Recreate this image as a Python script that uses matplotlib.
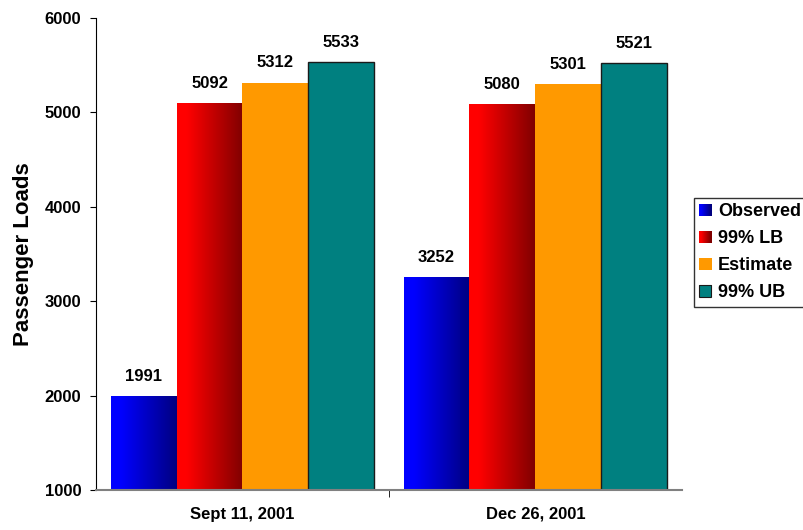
import numpy as np
import matplotlib
matplotlib.use('Agg')
import matplotlib.pyplot as plt
from matplotlib.colors import LinearSegmentedColormap
from matplotlib.patches import Rectangle
from matplotlib.legend_handler import HandlerBase

categories = ['Sept 11, 2001', 'Dec 26, 2001']
series = ['Observed', '99% LB', 'Estimate', '99% UB']
observed = [1991, 3252]
lb99 = [5092, 5080]
estimate = [5312, 5301]
ub99 = [5533, 5521]
values = [observed, lb99, estimate, ub99]

# (start colour, end colour, edge) for each series; equal colours means flat fill
fills = [('#0000ff', '#000080', 'none'), ('#ff0000', '#800000', 'none'),
         ('#ff9900', '#ff9900', 'none'), ('#008080', '#008080', '#1a1a1a')]

plt.rcParams['font.family'] = ['Liberation Sans', 'DejaVu Sans']
plt.rcParams['font.weight'] = 'bold'

fig = plt.figure(figsize=(8.04, 5.30), dpi=100)
ax = fig.add_axes([0.1194, 0.0755, 0.7286, 0.8905])

width = 0.225
x = np.arange(len(categories))


def cmap_for(c0, c1):
    return LinearSegmentedColormap.from_list('g', [(0, c0), (0.15, c0), (1, c1)])


grad = np.linspace(0, 1, 256).reshape(1, -1)
for i, (name, vals) in enumerate(zip(series, values)):
    c0, c1, ec = fills[i]
    pos = x - 1.5 * width + i * width
    bars = ax.bar(pos, vals, width, bottom=0, color=c0, label=name,
                  edgecolor=ec, linewidth=1.0, zorder=2)
    for b, v in zip(bars, vals):
        if c0 != c1:
            b.set_facecolor('none')
            ax.imshow(grad, cmap=cmap_for(c0, c1), aspect='auto',
                      extent=[b.get_x(), b.get_x() + b.get_width(), 1000, v],
                      zorder=2, interpolation='bilinear')
        ax.annotate('%d' % v, (b.get_x() + b.get_width() / 2, v),
                    xytext=(0, 9), textcoords='offset points',
                    ha='center', va='bottom', fontsize=12, fontweight='bold')

ax.set_xlim(-0.5, 1.5)
ax.set_ylim(1000, 6000)
ax.set_yticks(range(1000, 6001, 1000))
ax.set_xticks(x)
ax.set_xticklabels(categories, fontsize=12, fontweight='bold')
ax.set_xticks([0.5], minor=True)
ax.tick_params(axis='x', which='major', length=0, pad=12)
ax.tick_params(axis='x', which='minor', length=5, direction='out', color='black')
ax.tick_params(axis='y', length=4.5, direction='out', labelsize=12, pad=6)
for lab in ax.get_yticklabels():
    lab.set_fontweight('bold')
ax.spines['top'].set_visible(False)
ax.spines['right'].set_visible(False)
ax.spines['bottom'].set_color('#808080')
ax.spines['bottom'].set_linewidth(1.5)
ax.set_ylabel('Passenger Loads', fontsize=16, fontweight='bold', labelpad=8)


class GradHandler(HandlerBase):
    def __init__(self, c0, c1, ec):
        super().__init__()
        self.c0, self.c1, self.ec = c0, c1, ec

    def create_artists(self, legend, orig_handle, xdescent, ydescent,
                       width, height, fontsize, trans):
        s = width
        x0 = -xdescent
        y0 = -ydescent + (height - s) / 2
        cm = cmap_for(self.c0, self.c1)
        n = 12
        arts = []
        for k in range(n):
            arts.append(Rectangle((x0 + k * s / n, y0), s / n + 0.3, s,
                                  facecolor=cm(k / (n - 1)), edgecolor='none',
                                  transform=trans))
        if self.ec != 'none':
            arts.append(Rectangle((x0, y0), s, s, facecolor='none',
                                  edgecolor=self.ec, linewidth=0.8, transform=trans))
        return arts


handles = [Rectangle((0, 0), 1, 1) for _ in series]
hmap = {h: GradHandler(*fills[i]) for i, h in enumerate(handles)}
leg = fig.legend(handles, series, handler_map=hmap, loc='upper left',
                 bbox_to_anchor=(694 / 804, 1 - 198 / 530), frameon=True,
                 fancybox=False, edgecolor='black',
                 prop={'weight': 'bold', 'size': 13},
                 handlelength=0.65, handletextpad=0.38, labelspacing=0.55,
                 borderpad=0.3, borderaxespad=0)
leg.get_frame().set_linewidth(1.0)

fig.savefig('out.png', dpi=100)
